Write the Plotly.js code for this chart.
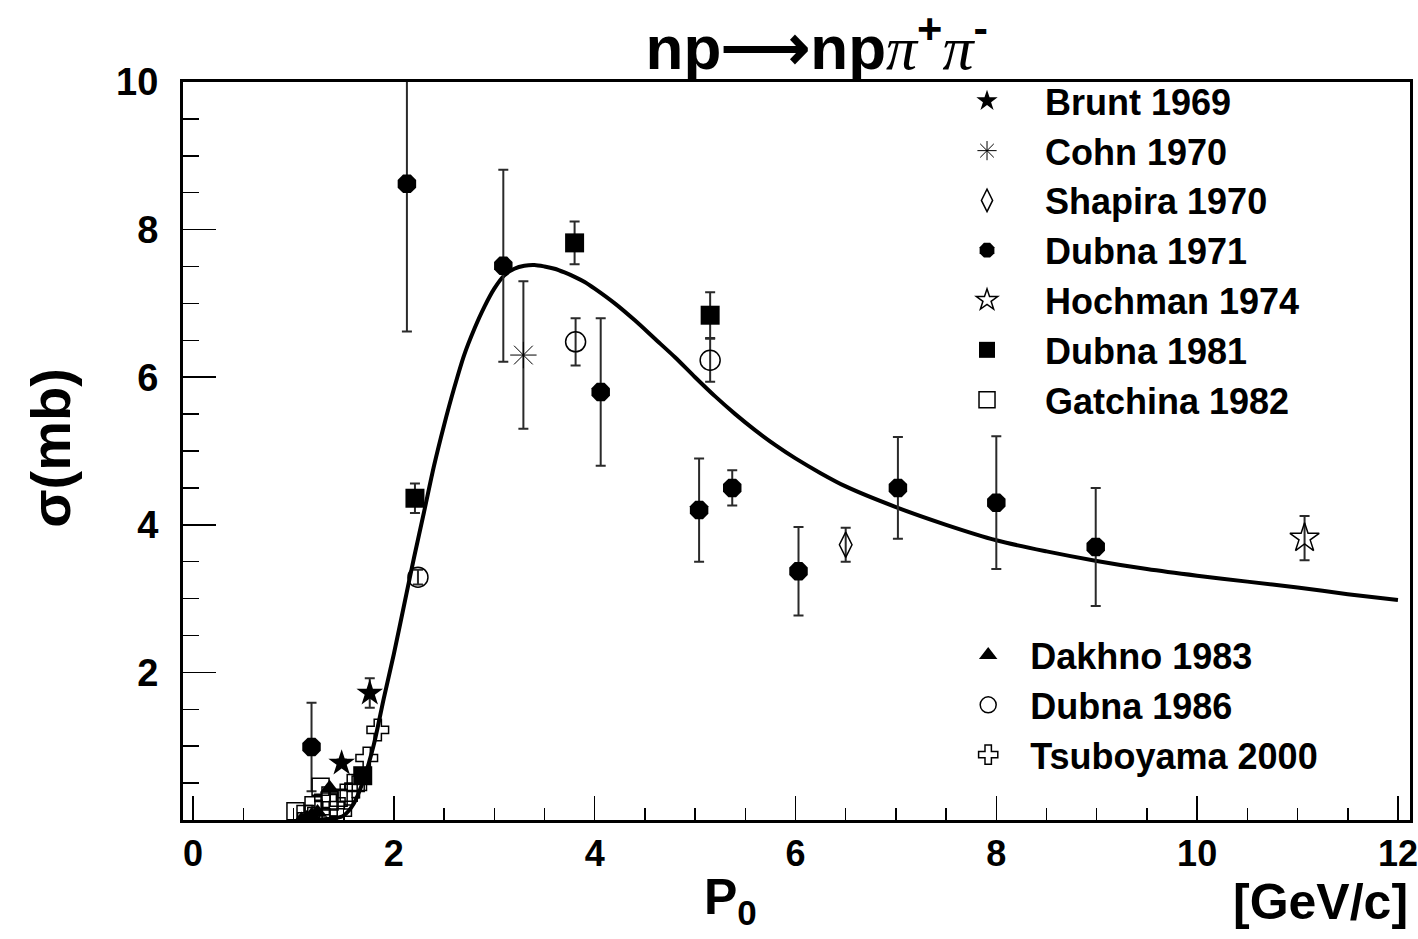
<!DOCTYPE html>
<html>
<head>
<meta charset="utf-8">
<script src="https://cdn.plot.ly/plotly-3.0.1.min.js"></script>
<style>html,body{margin:0;padding:0;background:#fff;}#chart{width:1418px;height:939px;}</style>
</head>
<body>
<div id="chart"></div>
<script>
// Theory curve
const curveP = [1.2,1.3,1.4,1.5,1.6,1.7,1.8,1.9,2.0,2.1,2.2,2.3,2.4,2.5,2.6,2.7,2.8,2.9,3.0,3.1,3.2,3.3,3.4,3.5,3.6,3.7,3.8,3.9,4.0,4.2,4.4,4.6,4.8,5.0,5.2,5.4,5.6,5.8,6.0,6.25,6.5,7.0,7.5,8.0,8.5,9.0,9.5,10.0,10.5,11.0,11.5,12.0];
const curveSigma = [0.0,0.01,0.02,0.06,0.22,0.55,1.02,1.65,2.25,2.9,3.55,4.17,4.8,5.35,5.85,6.3,6.65,6.95,7.2,7.38,7.47,7.51,7.52,7.5,7.47,7.42,7.36,7.29,7.2,7.0,6.77,6.52,6.27,6.0,5.74,5.5,5.28,5.08,4.9,4.7,4.52,4.24,4.0,3.79,3.64,3.51,3.4,3.31,3.23,3.15,3.06,2.98];

// Experimental data
const bruntP = [1.48,1.76], bruntS = [0.77,1.72], bruntE = [0.05,0.2];
const cohnP = [3.29], cohnS = [6.3], cohnE = [1.0];
const shapiraP = [6.5], shapiraS = [3.73], shapiraE = [0.23];
const dubna71P = [1.18,2.13,3.09,4.06,5.04,5.37,6.03,7.02,8.0,8.99];
const dubna71S = [0.99,8.62,7.51,5.8,4.2,4.5,3.37,4.5,4.3,3.7];
const dubna71E = [0.6,2.0,1.3,1.0,0.7,0.24,0.6,0.69,0.9,0.8];
const hochmanP = [11.07], hochmanS = [3.82], hochmanE = [0.3];
const dubna81P = [1.69,2.21,3.8,5.15], dubna81S = [0.6,4.36,7.82,6.84], dubna81E = [0.1,0.2,0.29,0.31];
const gatchinaP = [1.02,1.12,1.2,1.27,1.36,1.45,1.55,1.62];
const gatchinaS = [0.12,0.08,0.2,0.45,0.25,0.3,0.37,0.5];
const dakhnoP = [1.08,1.13,1.18,1.24,1.36], dakhnoS = [0.0,0.02,0.06,0.1,0.43];
const dubna86P = [2.24,3.81,5.15], dubna86S = [3.29,6.48,6.23], dubna86E = [0.1,0.32,0.29];
const tsuboP = [1.15,1.25,1.32,1.4,1.47,1.55,1.62,1.73,1.84];
const tsuboS = [0.05,0.12,0.3,0.2,0.1,0.35,0.45,0.84,1.22];

const xTickVals = [0,2,4,6,8,10,12];
const yTickVals = [2,4,6,8,10];

const FONT = 'Liberation Sans, Arial, sans-serif';
const eb = (arr) => ({type:'data', array:arr, visible:true, color:'#2a2a2a', thickness:2, width:5});

function pts(name, x, y, err, marker, legend) {
  const t = {type:'scatter', mode:'markers', name:name, x:x, y:y, marker:marker, legend:legend||'legend'};
  if (err) t.error_y = eb(err);
  return t;
}

const traces = [
  {type:'scatter', mode:'lines', x:curveP, y:curveSigma, line:{color:'#000', width:4, shape:'spline', smoothing:0.8}, showlegend:false, hoverinfo:'skip'},
  pts('Brunt 1969', bruntP, bruntS, bruntE, {symbol:'star', size:20, color:'#000'}),
  pts('Cohn 1970', cohnP, cohnS, cohnE, {symbol:'asterisk-open', size:22, color:'#000', line:{width:1, color:'#000'}}),
  pts('Shapira 1970', shapiraP, shapiraS, shapiraE, {symbol:'diamond-tall-open', size:18, color:'#000', line:{width:1.5, color:'#000'}}),
  pts('Dubna 1971', dubna71P, dubna71S, dubna71E, {symbol:'octagon', size:20, color:'#000'}),
  pts('Hochman 1974', hochmanP, hochmanS, hochmanE, {symbol:'star-open', size:22, color:'#000', line:{width:1.5, color:'#000'}}),
  pts('Dubna 1981', dubna81P, dubna81S, dubna81E, {symbol:'square', size:19, color:'#000'}),
  pts('Gatchina 1982', gatchinaP, gatchinaS, null, {symbol:'square-open', size:17, color:'#000', line:{width:1.5, color:'#000'}}),
  pts('Dakhno 1983', dakhnoP, dakhnoS, null, {symbol:'triangle-up', size:17, color:'#000'}, 'legend2'),
  pts('Dubna 1986', dubna86P, dubna86S, dubna86E, {symbol:'circle-open', size:20, color:'#000', line:{width:1.5, color:'#000'}}, 'legend2'),
  pts('Tsuboyama 2000', tsuboP, tsuboS, null, {symbol:'cross-open', size:18, color:'#000', line:{width:1.5, color:'#000'}}, 'legend2')
];

const legendFont = {family:FONT, size:36, color:'#000', weight:'bold'};

const layout = {
  width:1418, height:939,
  paper_bgcolor:'#fff', plot_bgcolor:'#fff',
  margin:{l:183, r:8, t:82, b:119},
  font:{family:FONT, color:'#000'},
  title:{
    text:'<b>np⟶np</b><span style="font-family:Liberation Serif;font-style:italic">π</span><sup><b>+</b></sup><span style="font-family:Liberation Serif;font-style:italic">π</span><sup><b>-</b></sup>',
    font:{family:FONT, size:62, color:'#000'},
    x:0.576, xanchor:'center', y:0.95, yanchor:'middle'
  },
  xaxis:{
    range:[-0.1,12.12], tickmode:'array', tickvals:xTickVals,
    ticks:'inside', ticklen:24, tickwidth:1.5, tickcolor:'#000',
    minor:{dtick:0.5, tick0:0, ticks:'inside', ticklen:12, tickwidth:1.5, tickcolor:'#000'},
    showline:true, linewidth:3, linecolor:'#000', mirror:true,
    showgrid:false, zeroline:false, ticklabeloverflow:'allow',
    tickfont:{family:FONT, size:36, color:'#000', weight:'bold'}
  },
  yaxis:{
    range:[0,10], tickmode:'array', tickvals:yTickVals,
    ticks:'inside', ticklen:33, tickwidth:1.5, tickcolor:'#000',
    minor:{dtick:0.5, tick0:0, ticks:'inside', ticklen:16, tickwidth:1.5, tickcolor:'#000'},
    showline:true, linewidth:3, linecolor:'#000', mirror:true,
    showgrid:false, zeroline:false, ticklabelstandoff:14,
    tickfont:{family:FONT, size:38, color:'#000', weight:'bold'}
  },
  legend:{font:legendFont, bgcolor:'rgba(0,0,0,0)', borderwidth:0, itemwidth:106,
          xanchor:'left', yanchor:'top', x:0.608, y:1.015},
  legend2:{font:legendFont, bgcolor:'rgba(0,0,0,0)', borderwidth:0, itemwidth:74,
          xanchor:'left', yanchor:'top', x:0.622, y:0.264},
  annotations:[
    {text:'<b>σ(mb)</b>', xref:'paper', yref:'paper', x:-0.108, y:0.505, xanchor:'center', yanchor:'middle',
     textangle:-90, showarrow:false, font:{family:FONT, size:56, color:'#000'}},
    {text:'<b>P<sub>0</sub></b>', xref:'paper', yref:'paper', x:0.446, y:-0.064, xanchor:'center', yanchor:'top',
     showarrow:false, font:{family:FONT, size:50, color:'#000'}},
    {text:'<b>[GeV/c]</b>', xref:'paper', yref:'paper', x:1.0, y:-0.07, xanchor:'right', yanchor:'top',
     showarrow:false, font:{family:FONT, size:50, color:'#000'}}
  ],
  showlegend:true
};

Plotly.newPlot('chart', traces, layout, {displayModeBar:false, staticPlot:true});
</script>
</body>
</html>
